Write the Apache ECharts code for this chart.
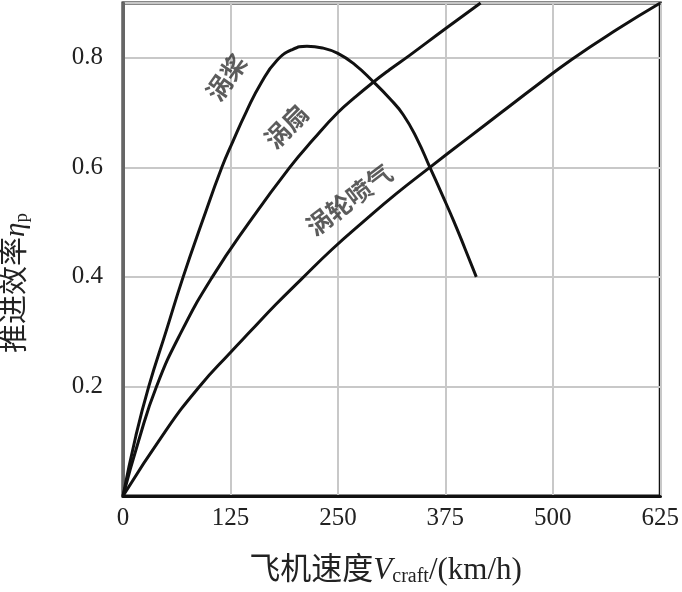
<!DOCTYPE html>
<html>
<head>
<meta charset="utf-8">
<script src="https://cdn.jsdelivr.net/npm/echarts@6/dist/echarts.min.js"></script>
<style>html,body{margin:0;padding:0;background:#fff;}#c{width:682px;height:592px;}</style>
</head>
<body>
<div id="c"></div>
<script>
// Data (speed km/h, propulsive efficiency)
const propSpeed = [0, 15, 30, 50, 70, 92, 115, 128, 143, 161, 179, 197, 214, 232, 250, 270, 290, 310, 326, 342, 357, 371, 385, 398, 411];
const propEff   = [0, 0.11, 0.2, 0.3, 0.4, 0.5, 0.6, 0.648, 0.7, 0.755, 0.795, 0.815, 0.821, 0.818, 0.808, 0.787, 0.758, 0.726, 0.696, 0.652, 0.6, 0.551, 0.501, 0.451, 0.4];
const fanSpeed  = [0, 18, 39, 68, 104, 147, 194, 222, 250, 270, 290, 310, 333, 375, 416];
const fanEff    = [0, 0.1, 0.2, 0.3, 0.4, 0.5, 0.6, 0.652, 0.70, 0.728, 0.754, 0.778, 0.804, 0.853, 0.9];
const jetSpeed  = [0, 50, 89, 125, 149, 178, 207, 243, 279, 318, 357, 400, 440, 480, 522, 575, 625];
const jetEff    = [0, 0.12, 0.2, 0.262, 0.302, 0.35, 0.395, 0.45, 0.5, 0.552, 0.6, 0.652, 0.7, 0.748, 0.797, 0.852, 0.9];
const xTicks = [0, 125, 250, 375, 500, 625];
const yTicks = [0.2, 0.4, 0.6, 0.8];
const curveLabels = ['涡桨', '涡扇', '涡轮喷气'];
const labelSpeed = [120, 190, 263];
const labelEff = [0.764, 0.675, 0.541];
const labelAngle = [55, 45, 37];

const pairs = (xs, ys) => xs.map((x, i) => [x, ys[i]]);
const serif = '"Liberation Serif", "Noto Sans CJK SC", serif';
const chart = echarts.init(document.getElementById('c'), null, {renderer: 'canvas'});

const lineStyle = {color: '#111', width: 3};
const mk = (name, data) => ({
  name, type: 'line', data, smooth: 0.5, showSymbol: false, symbol: 'none',
  lineStyle, clip: true, z: 5
});

chart.setOption({
  animation: false,
  backgroundColor: '#fff',
  grid: {left: 123, right: 20, top: 3, bottom: 93, show: true, borderColor: '#111', borderWidth: 3, backgroundColor: 'transparent'},
  xAxis: {
    type: 'value', min: xTicks[0], max: xTicks[xTicks.length - 1], interval: 125,
    axisLine: {show: true, lineStyle: {color: '#111', width: 3}},
    axisTick: {show: false},
    splitLine: {show: true, lineStyle: {color: '#c8c8c8', width: 2}},
    axisLabel: {margin: 10, fontFamily: serif, fontSize: 25, color: '#222'},
    name: '飞机速度{v|V}{sub|craft}/(km/h)',
    nameLocation: 'middle', nameGap: 58,
    nameTextStyle: {
      fontFamily: serif, fontSize: 31, color: '#222', padding: [0, 12, 0, 0],
      rich: {
        v: {fontFamily: serif, fontSize: 31, fontStyle: 'italic', color: '#222'},
        sub: {fontFamily: serif, fontSize: 20, color: '#222', verticalAlign: 'bottom', padding: [13, 0, 0, 0]}
      }
    }
  },
  yAxis: {
    type: 'value', min: 0, max: 0.9, interval: 0.2,
    axisLine: {show: true, lineStyle: {color: '#666', width: 3}},
    axisTick: {show: false},
    splitLine: {show: true, lineStyle: {color: '#c8c8c8', width: 2}},
    axisLabel: {
      margin: 20, fontFamily: serif, fontSize: 25, color: '#222',
      formatter: v => yTicks.some(t => Math.abs(t - v) < 1e-6) ? v.toFixed(1) : ''
    }
  },
  graphic: [{
    type: 'text', x: 0, y: 283, rotation: Math.PI / 2,
    style: {
      text: '推进效率{eta|η}{sub|p}', fill: '#222',
      font: '29px ' + serif, align: 'center', verticalAlign: 'top',
      rich: {
        eta: {fontFamily: serif, fontSize: 29, fontStyle: 'italic', fill: '#222'},
        sub: {fontFamily: serif, fontSize: 19, fill: '#222', padding: [13, 0, 0, 0]}
      }
    }
  }],
  series: [
    mk('涡桨', pairs(propSpeed, propEff)),
    mk('涡扇', pairs(fanSpeed, fanEff)),
    mk('涡轮喷气', pairs(jetSpeed, jetEff)),
    {
      type: 'scatter', symbolSize: 0, z: 6,
      data: curveLabels.map((t, i) => ({
        name: t, value: [labelSpeed[i], labelEff[i]],
        label: {rotate: labelAngle[i]}
      })),
      label: {
        show: true, position: 'inside', formatter: p => p.name,
        fontFamily: '"Noto Sans CJK SC", sans-serif', fontSize: 25, color: '#333', fontWeight: 'bold'
      }
    }
  ]
});
</script>
</body>
</html>
